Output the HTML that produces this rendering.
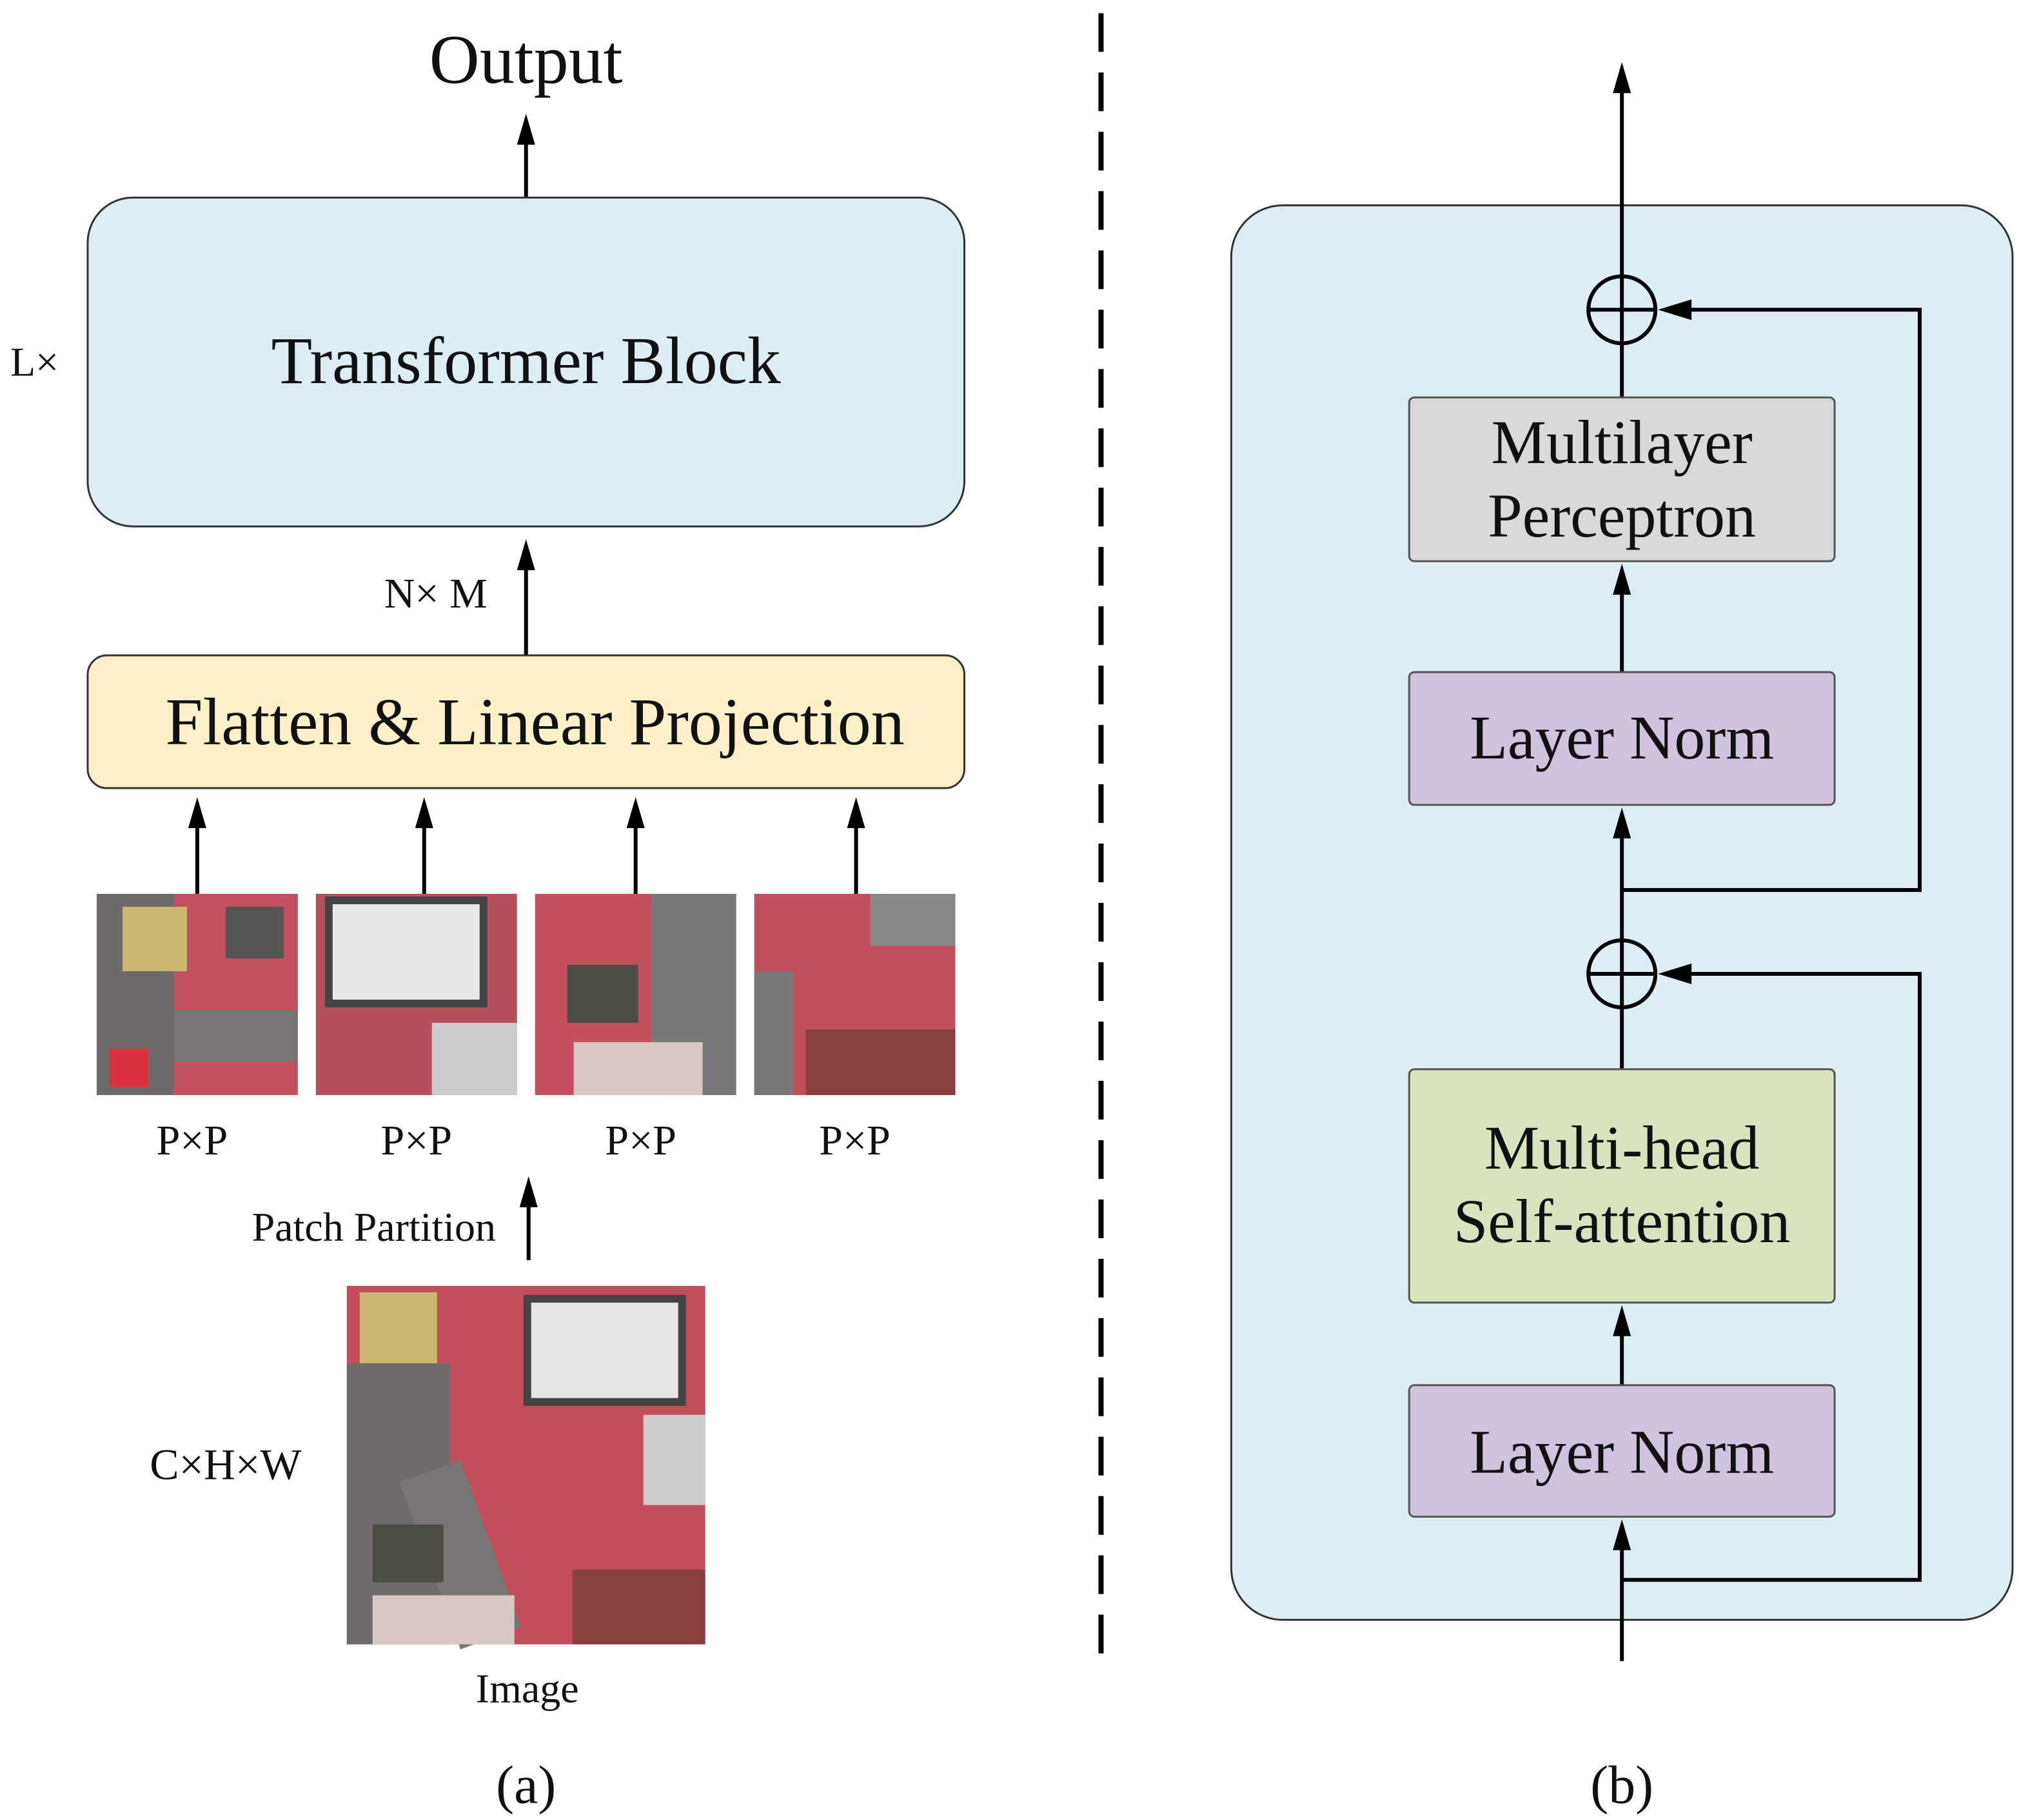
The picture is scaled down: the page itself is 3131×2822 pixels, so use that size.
<!DOCTYPE html>
<html><head><meta charset="utf-8"><style>
html,body{margin:0;padding:0;background:#fff;}
svg{display:block;}
text{font-family:"Liberation Serif",serif;fill:#111;}
</style></head><body>
<svg width="3131" height="2822" viewBox="0 0 1566 1411" xmlns="http://www.w3.org/2000/svg">

<!-- (a) -->
<text x="408" y="64" font-size="54" text-anchor="middle">Output</text>
<line x1="408" y1="153" x2="408" y2="105" stroke="#000" stroke-width="3"/>
<polygon points="401,112 408,88 415,112" fill="#000"/>
<rect x="68" y="153" width="680" height="255" rx="35" fill="#dceef4" stroke="#333" stroke-width="1.5"/>
<text x="408" y="297" font-size="52" text-anchor="middle">Transformer Block</text>
<text x="8" y="291" font-size="32">L×</text>
<line x1="408" y1="508" x2="408" y2="435" stroke="#000" stroke-width="3"/>
<polygon points="401,442 408,418 415,442" fill="#000"/>
<text x="338" y="471" font-size="33" text-anchor="middle">N× M</text>
<rect x="68" y="508" width="680" height="103" rx="15" fill="#fdf0c8" stroke="#333" stroke-width="1.5"/>
<text x="415" y="577" font-size="52" text-anchor="middle">Flatten &amp; Linear Projection</text>

<g stroke="#000" stroke-width="3">
<line x1="153" y1="693" x2="153" y2="635"/>
<line x1="329" y1="693" x2="329" y2="635"/>
<line x1="493" y1="693" x2="493" y2="635"/>
<line x1="664" y1="693" x2="664" y2="635"/>
</g>
<g fill="#000">
<polygon points="146,642 153,618 160,642"/>
<polygon points="322,642 329,618 336,642"/>
<polygon points="486,642 493,618 500,642"/>
<polygon points="657,642 664,618 671,642"/>
</g>
<g transform="translate(75,693)"><rect width="156" height="156" fill="#c2505e"/><rect x="0" y="0" width="60" height="156" fill="#6e6a6a"/><rect x="60" y="90" width="96" height="40" fill="#7a7575"/><rect x="20" y="10" width="50" height="50" fill="#cbb870"/><rect x="100" y="10" width="45" height="40" fill="#555"/><rect x="10" y="120" width="30" height="30" fill="#d8303f"/></g>
<g transform="translate(245,693)"><rect width="156" height="156" fill="#b4505c"/><rect x="10" y="5" width="120" height="80" fill="#e8e8ea"/><rect x="10" y="5" width="120" height="80" fill="none" stroke="#444" stroke-width="6"/><rect x="90" y="100" width="66" height="56" fill="#ccc"/></g>
<g transform="translate(415,693)"><rect width="156" height="156" fill="#c44e5c"/><rect x="90" y="0" width="66" height="156" fill="#777"/><rect x="25" y="55" width="55" height="45" fill="#4b4e44"/><rect x="30" y="115" width="100" height="41" fill="#d8c8c4"/></g>
<g transform="translate(585,693)"><rect width="156" height="156" fill="#c0505e"/><rect x="0" y="60" width="30" height="96" fill="#777"/><rect x="90" y="0" width="66" height="40" fill="#888"/><rect x="40" y="105" width="116" height="51" fill="#8a4040"/></g>

<g font-size="33" text-anchor="middle">
<text x="149" y="895">P×P</text><text x="323" y="895">P×P</text>
<text x="497" y="895">P×P</text><text x="663" y="895">P×P</text>
</g>
<line x1="410" y1="977" x2="410" y2="930" stroke="#000" stroke-width="3"/>
<polygon points="403,936 410,912 417,936" fill="#000"/>
<text x="290" y="962" font-size="32" text-anchor="middle">Patch Partition</text>
<g transform="translate(269,997)">
<rect width="278" height="278" fill="#c24e5c"/>
<rect x="0" y="60" width="80" height="218" fill="#6f6b6b"/>
<rect x="60" y="140" width="50" height="138" fill="#7a7575" transform="rotate(-20 85 200)"/>
<rect x="10" y="5" width="60" height="55" fill="#cbb870"/>
<rect x="140" y="10" width="120" height="80" fill="#e6e6e8" stroke="#444" stroke-width="6"/>
<rect x="230" y="100" width="48" height="70" fill="#ccc"/>
<rect x="20" y="185" width="55" height="45" fill="#4b4e44"/>
<rect x="175" y="220" width="103" height="58" fill="#8a4040"/>
<rect x="20" y="240" width="110" height="38" fill="#d8c8c4"/>
</g>
<text x="175" y="1147" font-size="34" text-anchor="middle">C×H×W</text>
<text x="409" y="1320" font-size="32" text-anchor="middle">Image</text>
<text x="408" y="1398" font-size="42" text-anchor="middle">(a)</text>
<text x="1258" y="1398" font-size="42" text-anchor="middle">(b)</text>

<line x1="854" y1="10" x2="854" y2="1285" stroke="#000" stroke-width="4" stroke-dasharray="30,16"/>

<!-- (b) -->
<rect x="955" y="159" width="606" height="1097" rx="40" fill="#dceef4" stroke="#333" stroke-width="1.5"/>
<g stroke="#000" stroke-width="3" fill="none">
<line x1="1258" y1="214" x2="1258" y2="65"/>
<line x1="1258" y1="308" x2="1258" y2="266"/>
<line x1="1258" y1="521" x2="1258" y2="455"/>
<line x1="1258" y1="729" x2="1258" y2="645"/>
<line x1="1258" y1="829" x2="1258" y2="781"/>
<line x1="1258" y1="1074" x2="1258" y2="1030"/>
<line x1="1258" y1="1288" x2="1258" y2="1195"/>
<polyline points="1258,690 1489,690 1489,240 1305,240"/>
<polyline points="1258,1225 1489,1225 1489,755 1305,755"/>
<circle cx="1258" cy="240" r="26"/>
<line x1="1232" y1="240" x2="1284" y2="240"/><line x1="1258" y1="214" x2="1258" y2="266"/>
<circle cx="1258" cy="755" r="26"/>
<line x1="1232" y1="755" x2="1284" y2="755"/><line x1="1258" y1="729" x2="1258" y2="781"/>
</g>
<g fill="#000">
<polygon points="1251,72 1258,48 1265,72"/>
<polygon points="1251,461 1258,437 1265,461"/>
<polygon points="1251,650 1258,626 1265,650"/>
<polygon points="1251,1036 1258,1012 1265,1036"/>
<polygon points="1251,1202 1258,1178 1265,1202"/>
<polygon points="1286,240 1312,232 1312,248"/>
<polygon points="1286,755 1312,747 1312,763"/>
</g>
<rect x="1093" y="308" width="330" height="127" rx="4" fill="#d9d9d9" stroke="#555" stroke-width="1.5"/>
<text x="1258" y="359" font-size="48" text-anchor="middle">Multilayer</text>
<text x="1258" y="416" font-size="48" text-anchor="middle">Perceptron</text>
<rect x="1093" y="521" width="330" height="103" rx="4" fill="#cfc3dd" stroke="#555" stroke-width="1.5"/>
<text x="1258" y="588" font-size="48" text-anchor="middle">Layer Norm</text>
<rect x="1093" y="829" width="330" height="181" rx="4" fill="#d7e4bd" stroke="#555" stroke-width="1.5"/>
<text x="1258" y="906" font-size="48" text-anchor="middle">Multi-head</text>
<text x="1258" y="963" font-size="48" text-anchor="middle">Self-attention</text>
<rect x="1093" y="1074" width="330" height="102" rx="4" fill="#cfc3dd" stroke="#555" stroke-width="1.5"/>
<text x="1258" y="1142" font-size="48" text-anchor="middle">Layer Norm</text>
</svg>
</body></html>
